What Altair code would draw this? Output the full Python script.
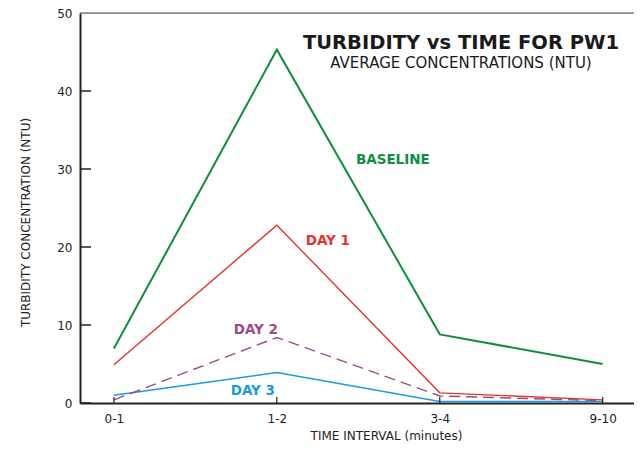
import altair as alt
import pandas as pd

categories = ["0-1", "1-2", "3-4", "9-10"]
baseline = [7.0, 45.3, 8.8, 5.0]
day1 = [4.9, 22.8, 1.3, 0.4]
day2 = [0.4, 8.4, 0.9, 0.3]
day3 = [1.0, 3.9, 0.2, 0.2]
series_names = ["BASELINE", "DAY 1", "DAY 2", "DAY 3"]
series_colors = ["#0f8f3e", "#e3342c", "#9b4a8c", "#1b9bd8"]
y_ticks = [0, 10, 20, 30, 40, 50]

FONT = "DejaVu Sans"

rows = []
for name, vals in zip(series_names, [baseline, day1, day2, day3]):
    for c, v in zip(categories, vals):
        rows.append({"interval": c, "value": v, "series": name})
df = pd.DataFrame(rows)

W, H = 554, 390
xscale = alt.Scale(type="point", padding=0.2, align=0.52)
xs = alt.X("interval:O", sort=categories, scale=xscale,
           axis=alt.Axis(title="TIME INTERVAL (minutes)", labelAngle=0, tickSize=0,
                         domainColor="#222", domainWidth=2, labelPadding=10,
                         titlePadding=6, labelFontSize=12, titleFontSize=12,
                         labelFont=FONT, titleFont=FONT, titleX=306,
                         titleFontWeight="normal", labelColor="#222", titleColor="#222"))
ys = alt.Y("value:Q", scale=alt.Scale(domain=[0, 50], nice=False),
           axis=alt.Axis(title="TURBIDITY CONCENTRATION (NTU)", values=y_ticks, tickSize=0,
                         grid=False, domainColor="#222", domainWidth=2, labelPadding=8,
                         titlePadding=24, labelFontSize=12, titleFontSize=12,
                         labelFont=FONT, titleFont=FONT, titleY=209,
                         titleFontWeight="normal", labelColor="#222", titleColor="#222"))

color_scale = alt.Scale(domain=series_names, range=series_colors)

solid = alt.Chart(df[df.series != "DAY 2"]).mark_line().encode(
    x=xs, y=ys,
    color=alt.Color("series:N", scale=color_scale, legend=None),
    strokeWidth=alt.condition(alt.datum.series == "BASELINE", alt.value(2.0), alt.value(1.4)),
)
dashed = alt.Chart(df[df.series == "DAY 2"]).mark_line(strokeWidth=1.4, strokeDash=[11, 6]).encode(
    x=xs, y=ys,
    color=alt.Color("series:N", scale=color_scale, legend=None),
)

ytick_df = pd.DataFrame({"v": y_ticks[:-1]})
yticks = alt.Chart(ytick_df).mark_rule(color="#222", strokeWidth=1.5).encode(
    y="v:Q", x=alt.value(0), x2=alt.value(11))
xtick_df = pd.DataFrame({"interval": categories})
xticks = alt.Chart(xtick_df).mark_rule(color="#222", strokeWidth=1.2).encode(
    x=alt.X("interval:O", sort=categories), y=alt.value(H), y2=alt.value(H - 6))

top_border = alt.Chart(pd.DataFrame({"a": [0]})).mark_rule(color="#444", strokeWidth=1).encode(
    x=alt.value(0), x2=alt.value(W), y=alt.value(0))

lab_df = pd.DataFrame({
    "interval": ["1-2", "1-2", "1-2", "1-2"],
    "value": [31.1, 20.8, 9.3, 1.6],
    "series": series_names,
    "dx": [116, 51, -21, -24],
})
labels = alt.Chart(lab_df).mark_text(font=FONT, fontSize=13.5, fontWeight="bold", baseline="middle").encode(
    x=alt.X("interval:O", sort=categories), y="value:Q", text="series:N",
    color=alt.Color("series:N", scale=color_scale, legend=None),
    xOffset=alt.XOffset("dx:Q", scale=None),
)

title_df = pd.DataFrame({"t": ["TURBIDITY vs TIME FOR PW1"]})
title = alt.Chart(title_df).mark_text(font=FONT, fontSize=19.5, fontWeight="bold", color="#1a1a1a",
                                      baseline="alphabetic").encode(
    text="t:N", x=alt.value(381), y=alt.value(36))
sub_df = pd.DataFrame({"t": ["AVERAGE CONCENTRATIONS (NTU)"]})
subtitle = alt.Chart(sub_df).mark_text(font=FONT, fontSize=15, color="#1a1a1a",
                                       baseline="alphabetic").encode(
    text="t:N", x=alt.value(381), y=alt.value(55))

chart = alt.layer(solid, dashed, yticks, xticks, top_border, labels, title, subtitle).properties(
    width=W, height=H,
    autosize=alt.AutoSizeParams(type="none"),
    padding={"left": 72, "top": 5, "right": 0, "bottom": 40},
).configure_view(stroke=None).configure(font=FONT)

chart.save("out.html", embed_options={"renderer": "svg", "actions": False})
